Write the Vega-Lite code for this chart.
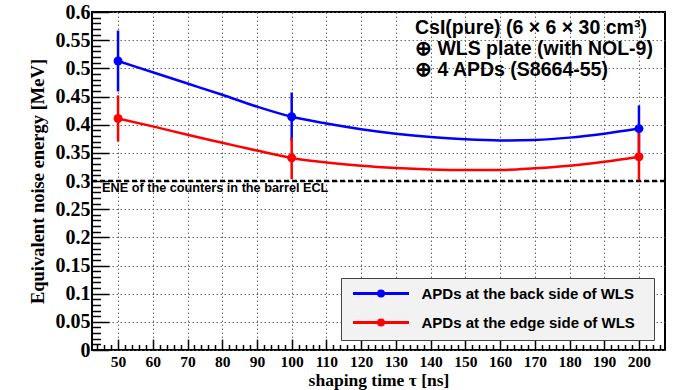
{
  "$schema": "https://vega.github.io/schema/vega-lite/v6.json",
  "width": 573,
  "height": 338,
  "autosize": "none",
  "padding": {"left": 92, "top": 12, "right": 12, "bottom": 40},
  "background": "white",
  "config": {"view": {"stroke": "black", "strokeWidth": 2}, "axis": {"domain": false}},
  "datasets": {
    "points": [
      {"tau": 50, "ene": 0.513, "lo": 0.459, "hi": 0.567, "series": "APDs at the back side of WLS"},
      {"tau": 100, "ene": 0.414, "lo": 0.371, "hi": 0.457, "series": "APDs at the back side of WLS"},
      {"tau": 200, "ene": 0.393, "lo": 0.352, "hi": 0.434, "series": "APDs at the back side of WLS"},
      {"tau": 50, "ene": 0.411, "lo": 0.37, "hi": 0.452, "series": "APDs at the edge side of WLS"},
      {"tau": 100, "ene": 0.341, "lo": 0.303, "hi": 0.377, "series": "APDs at the edge side of WLS"},
      {"tau": 200, "ene": 0.343, "lo": 0.301, "hi": 0.385, "series": "APDs at the edge side of WLS"}
    ],
    "curves": [
      {"tau": 50, "ene": 0.513, "series": "APDs at the back side of WLS"},
      {"tau": 60, "ene": 0.493, "series": "APDs at the back side of WLS"},
      {"tau": 70, "ene": 0.473, "series": "APDs at the back side of WLS"},
      {"tau": 80, "ene": 0.453, "series": "APDs at the back side of WLS"},
      {"tau": 90, "ene": 0.432, "series": "APDs at the back side of WLS"},
      {"tau": 100, "ene": 0.414, "series": "APDs at the back side of WLS"},
      {"tau": 110, "ene": 0.402, "series": "APDs at the back side of WLS"},
      {"tau": 120, "ene": 0.392, "series": "APDs at the back side of WLS"},
      {"tau": 130, "ene": 0.384, "series": "APDs at the back side of WLS"},
      {"tau": 140, "ene": 0.378, "series": "APDs at the back side of WLS"},
      {"tau": 150, "ene": 0.374, "series": "APDs at the back side of WLS"},
      {"tau": 160, "ene": 0.372, "series": "APDs at the back side of WLS"},
      {"tau": 170, "ene": 0.373, "series": "APDs at the back side of WLS"},
      {"tau": 180, "ene": 0.377, "series": "APDs at the back side of WLS"},
      {"tau": 190, "ene": 0.384, "series": "APDs at the back side of WLS"},
      {"tau": 200, "ene": 0.393, "series": "APDs at the back side of WLS"},
      {"tau": 50, "ene": 0.411, "series": "APDs at the edge side of WLS"},
      {"tau": 60, "ene": 0.397, "series": "APDs at the edge side of WLS"},
      {"tau": 70, "ene": 0.382, "series": "APDs at the edge side of WLS"},
      {"tau": 80, "ene": 0.368, "series": "APDs at the edge side of WLS"},
      {"tau": 90, "ene": 0.354, "series": "APDs at the edge side of WLS"},
      {"tau": 100, "ene": 0.341, "series": "APDs at the edge side of WLS"},
      {"tau": 110, "ene": 0.333, "series": "APDs at the edge side of WLS"},
      {"tau": 120, "ene": 0.327, "series": "APDs at the edge side of WLS"},
      {"tau": 130, "ene": 0.323, "series": "APDs at the edge side of WLS"},
      {"tau": 140, "ene": 0.3205, "series": "APDs at the edge side of WLS"},
      {"tau": 150, "ene": 0.3195, "series": "APDs at the edge side of WLS"},
      {"tau": 160, "ene": 0.3195, "series": "APDs at the edge side of WLS"},
      {"tau": 170, "ene": 0.3225, "series": "APDs at the edge side of WLS"},
      {"tau": 180, "ene": 0.327, "series": "APDs at the edge side of WLS"},
      {"tau": 190, "ene": 0.334, "series": "APDs at the edge side of WLS"},
      {"tau": 200, "ene": 0.343, "series": "APDs at the edge side of WLS"}
    ],
    "notes": [
      {"tau": 135.5, "ene": 0.571, "label": "CsI(pure) (6 × 6 × 30 cm³)"},
      {"tau": 135.5, "ene": 0.534, "label": "⊕ WLS plate (with NOL-9)"},
      {"tau": 135.5, "ene": 0.497, "label": "⊕ 4 APDs (S8664-55)"}
    ],
    "ene": [
      {"tau": 45.4, "ene": 0.3, "labelpos": 0.2876, "label": "ENE of the counters in the barrel ECL"}
    ]
  },
  "resolve": {"axis": {"x": "independent", "y": "independent"}},
  "layer": [
    {
      "data": {"name": "ene"},
      "mark": {"type": "rule", "strokeDash": [5, 3], "strokeWidth": 2.5, "color": "black"},
      "encoding": {
        "y": {"field": "ene", "type": "quantitative", "scale": {"domain": [0, 0.6], "nice": false}, "axis": null}
      }
    },
    {
      "data": {"name": "curves"},
      "mark": {"type": "line", "strokeWidth": 2.5, "interpolate": "monotone"},
      "encoding": {
        "x": {"field": "tau", "type": "quantitative", "scale": {"domain": [42.5, 207.5], "nice": false, "zero": false},
          "axis": {"orient": "bottom", "values": [50,60,70,80,90,100,110,120,130,140,150,160,170,180,190,200], "ticks": false,
            "labelFont": "Liberation Serif", "labelFontWeight": "bold", "labelFontSize": 15.5, "labelColor": "black", "labelPadding": 4, "labelFlush": false,
            "title": "shaping time τ [ns]", "titleFont": "Liberation Serif", "titleFontSize": 17.5, "titleFontWeight": "bold", "titleColor": "black", "titlePadding": 2,
            "grid": true, "gridDash": [1.5, 2.5], "gridColor": "#666", "gridWidth": 1}},
        "y": {"field": "ene", "type": "quantitative", "scale": {"domain": [0, 0.6], "nice": false},
          "axis": {"orient": "left", "values": [0,0.05,0.1,0.15,0.2,0.25,0.3,0.35,0.4,0.45,0.5,0.55,0.6], "format": "~g", "ticks": false,
            "labelFont": "Liberation Serif", "labelFontWeight": "bold", "labelFontSize": 20, "labelColor": "black", "labelPadding": 2, "labelFlush": false,
            "title": "Equivalent noise energy [MeV]", "titleFont": "Liberation Serif", "titleFontSize": 18.5, "titleFontWeight": "bold", "titleColor": "black", "titlePadding": 8,
            "grid": true, "gridDash": [1.5, 2.5], "gridColor": "#666", "gridWidth": 1}},
        "color": {"field": "series", "type": "nominal",
          "scale": {"domain": ["APDs at the back side of WLS", "APDs at the edge side of WLS"], "range": ["#0000ff", "#ff0000"]},
          "legend": {"orient": "none", "legendX": 249, "legendY": 266, "title": null, "fillColor": "#f2f2f2", "strokeColor": "#444", "padding": 8,
            "symbolType": "M-4.667,0L4.667,0M0.4167,0A0.4167,0.4167,0,1,1,-0.4167,0A0.4167,0.4167,0,1,1,0.4167,0Z", "symbolSize": 144, "symbolStrokeWidth": 3,
            "symbolOffset": 24.5, "labelOffset": 33,
            "labelExpr": "datum.label + '\u2800'",
            "labelFont": "Liberation Sans", "labelFontWeight": "bold", "labelFontSize": 15, "labelColor": "black", "labelLimit": 0, "rowPadding": 10,
            "encode": {"symbols": {"update": {"fill": {"scale": "color", "field": "value"}, "stroke": {"scale": "color", "field": "value"}}}}}}
      }
    },
    {
      "data": {"name": "points"},
      "mark": {"type": "rule", "strokeWidth": 2.5},
      "encoding": {
        "x": {"field": "tau", "type": "quantitative",
          "axis": {"orient": "bottom", "values": [50,60,70,80,90,100,110,120,130,140,150,160,170,180,190,200], "labels": false, "ticks": true, "tickSize": -11, "tickWidth": 1.5, "tickColor": "black", "grid": false, "title": null}},
        "y": {"field": "lo", "type": "quantitative",
          "axis": {"orient": "left", "values": [0,0.05,0.1,0.15,0.2,0.25,0.3,0.35,0.4,0.45,0.5,0.55,0.6], "labels": false, "ticks": true, "tickSize": -17, "tickWidth": 1.5, "tickColor": "black", "grid": false, "title": null}},
        "y2": {"field": "hi"},
        "color": {"field": "series", "type": "nominal", "legend": null}
      }
    },
    {
      "data": {"name": "points"},
      "mark": {"type": "point", "filled": true, "opacity": 1, "size": 80},
      "encoding": {
        "x": {"field": "tau", "type": "quantitative",
          "axis": {"orient": "bottom", "values": [44,46,48,52,54,56,58,62,64,66,68,72,74,76,78,82,84,86,88,92,94,96,98,102,104,106,108,112,114,116,118,122,124,126,128,132,134,136,138,142,144,146,148,152,154,156,158,162,164,166,168,172,174,176,178,182,184,186,188,192,194,196,198,202,204,206], "labels": false, "ticks": true, "tickSize": -5.5, "tickWidth": 1.5, "tickColor": "black", "grid": false, "title": null}},
        "y": {"field": "ene", "type": "quantitative",
          "axis": {"orient": "left", "values": [0.01,0.02,0.03,0.04,0.06,0.07,0.08,0.09,0.11,0.12,0.13,0.14,0.16,0.17,0.18,0.19,0.21,0.22,0.23,0.24,0.26,0.27,0.28,0.29,0.31,0.32,0.33,0.34,0.36,0.37,0.38,0.39,0.41,0.42,0.43,0.44,0.46,0.47,0.48,0.49,0.51,0.52,0.53,0.54,0.56,0.57,0.58,0.59], "labels": false, "ticks": true, "tickSize": -8.5, "tickWidth": 1.5, "tickColor": "black", "grid": false, "title": null}},
        "color": {"field": "series", "type": "nominal", "legend": null}
      }
    },
    {
      "data": {"name": "notes"},
      "mark": {"type": "text", "align": "left", "baseline": "middle", "font": "Liberation Sans", "fontWeight": "bold", "fontSize": 19.5, "color": "black"},
      "encoding": {
        "x": {"field": "tau", "type": "quantitative", "axis": null},
        "y": {"field": "ene", "type": "quantitative", "axis": null},
        "text": {"field": "label"}
      }
    },
    {
      "data": {"name": "ene"},
      "mark": {"type": "text", "align": "left", "baseline": "middle", "font": "Liberation Sans", "fontWeight": "bold", "fontSize": 12.7, "color": "black"},
      "encoding": {
        "x": {"field": "tau", "type": "quantitative", "axis": null},
        "y": {"field": "labelpos", "type": "quantitative", "axis": null},
        "text": {"field": "label"}
      }
    }
  ]
}
